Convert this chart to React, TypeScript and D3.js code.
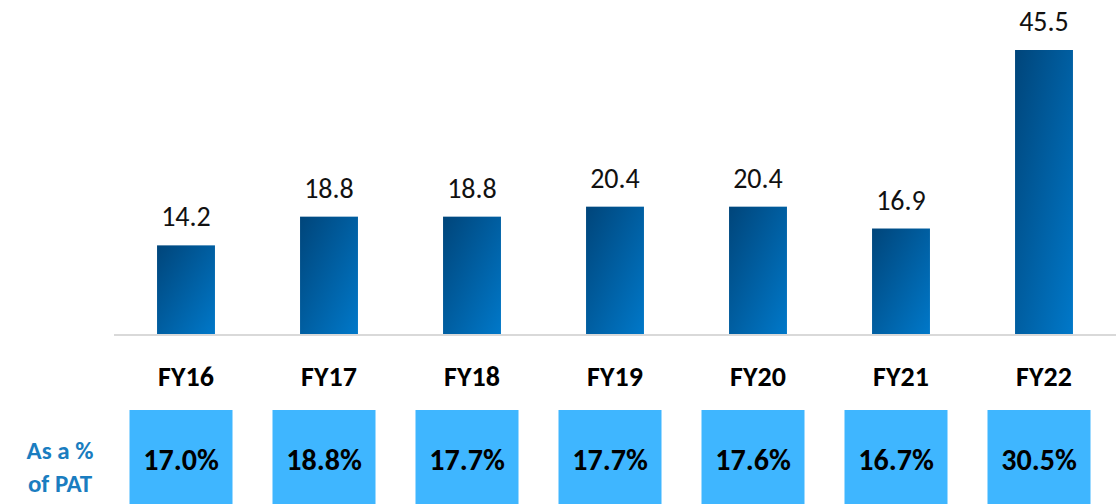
import React from "react";
import * as d3 from "d3";

const categories = ["FY16", "FY17", "FY18", "FY19", "FY20", "FY21", "FY22"];
const values = [14.2, 18.8, 18.8, 20.4, 20.4, 16.9, 45.5];
const pctOfPat = ["17.0%", "18.8%", "17.7%", "17.7%", "17.6%", "16.7%", "30.5%"];

const W = 1119;
const H = 504;
const FONT = "Carlito, Calibri, Lato, 'Open Sans', sans-serif";

export default function App() {
  const x = d3.scaleBand<string>().domain(categories).range([114.5, 1115.5]).paddingInner(0.595).paddingOuter(0.2975);
  const y = d3.scaleLinear().domain([0, 45.5]).range([334, 50]);
  const bw = x.bandwidth();
  const boxW = 103;
  return (
    <svg width={W} height={H} style={{ position: "absolute", left: 0, top: 0 }}>
      <defs>
        <linearGradient id="barGrad" x1="0" y1="0" x2="1" y2="1">
          <stop offset="0%" stopColor="#00457A" />
          <stop offset="100%" stopColor="#0078C9" />
        </linearGradient>
      </defs>
      <rect width={W} height={H} fill="#fff" />
      {categories.map((c, i) => {
        const cx = x(c)! + bw / 2;
        return (
          <g key={c}>
            <rect x={x(c)} y={y(values[i])} width={bw} height={y(0) - y(values[i])} fill="url(#barGrad)" />
            <text x={cx} y={y(values[i]) - 19} textAnchor="middle" fontFamily={FONT} fontSize={28} fill="#111">
              {values[i].toFixed(1)}
            </text>
            <text x={cx} y={386} textAnchor="middle" fontFamily={FONT} fontSize={28} fontWeight="bold" fill="#000">
              {c}
            </text>
            <rect x={cx - 5 - boxW / 2} y={410} width={boxW} height={H - 410} fill="#3FB6FF" />
            <text x={cx - 5} y={470} textAnchor="middle" fontFamily={FONT} fontSize={30} fontWeight="bold" fill="#000">
              {pctOfPat[i]}
            </text>
          </g>
        );
      })}
      <line x1={114} x2={1116} y1={335} y2={335} stroke="#D9D9D9" strokeWidth={2} />
      <text x={60} y={459} textAnchor="middle" fontFamily={FONT} fontSize={25} fontWeight="bold" fill="#1A7DC0">
        As a %
      </text>
      <text x={60} y={492} textAnchor="middle" fontFamily={FONT} fontSize={25} fontWeight="bold" fill="#1A7DC0">
        of PAT
      </text>
    </svg>
  );
}
